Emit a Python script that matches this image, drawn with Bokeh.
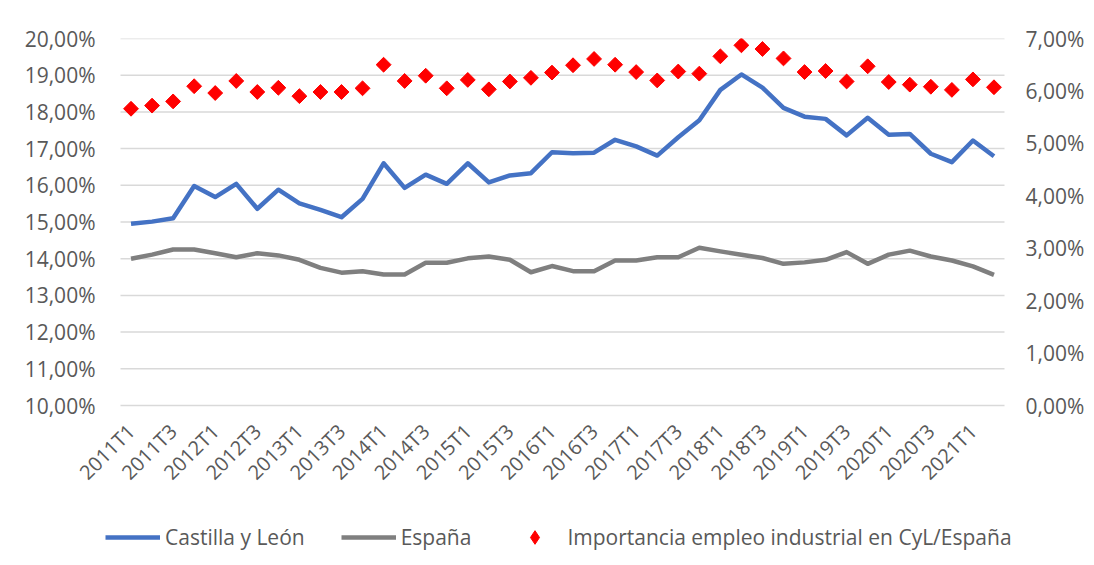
import math
from bokeh.plotting import figure
from bokeh.models import Range1d, LinearAxis, FixedTicker, Legend, LegendItem, ColumnDataSource
from bokeh.embed import file_html
from bokeh.resources import INLINE

quarters = ["2011T1", "2011T2", "2011T3", "2011T4", "2012T1", "2012T2", "2012T3", "2012T4",
            "2013T1", "2013T2", "2013T3", "2013T4", "2014T1", "2014T2", "2014T3", "2014T4",
            "2015T1", "2015T2", "2015T3", "2015T4", "2016T1", "2016T2", "2016T3", "2016T4",
            "2017T1", "2017T2", "2017T3", "2017T4", "2018T1", "2018T2", "2018T3", "2018T4",
            "2019T1", "2019T2", "2019T3", "2019T4", "2020T1", "2020T2", "2020T3", "2020T4",
            "2021T1", "2021T2"]

castilla_leon = [14.95, 15.01, 15.10, 15.98, 15.68, 16.04, 15.36, 15.88, 15.51, 15.33, 15.13, 15.63,
                 16.60, 15.93, 16.29, 16.04, 16.60, 16.08, 16.27, 16.33, 16.90, 16.87, 16.89, 17.24,
                 17.06, 16.81, 17.31, 17.77, 18.60, 19.02, 18.66, 18.11, 17.87, 17.81, 17.36, 17.84,
                 17.38, 17.40, 16.86, 16.63, 17.22, 16.79]

espana = [14.00, 14.11, 14.25, 14.25, 14.15, 14.04, 14.15, 14.09, 13.97, 13.75, 13.62, 13.66,
          13.57, 13.57, 13.89, 13.89, 14.01, 14.06, 13.97, 13.63, 13.80, 13.66, 13.66, 13.95,
          13.95, 14.04, 14.04, 14.30, 14.20, 14.11, 14.02, 13.86, 13.90, 13.97, 14.18, 13.86,
          14.11, 14.22, 14.06, 13.95, 13.79, 13.56]

importancia = [5.66, 5.72, 5.80, 6.09, 5.96, 6.19, 5.98, 6.06, 5.90, 5.98, 5.98, 6.05,
               6.50, 6.19, 6.29, 6.05, 6.21, 6.03, 6.18, 6.25, 6.35, 6.49, 6.61, 6.50,
               6.36, 6.20, 6.37, 6.33, 6.66, 6.87, 6.80, 6.62, 6.36, 6.38, 6.18, 6.47,
               6.17, 6.12, 6.08, 6.02, 6.22, 6.07]

left_ticks = [10, 11, 12, 13, 14, 15, 16, 17, 18, 19, 20]
left_labels = ["10,00%", "11,00%", "12,00%", "13,00%", "14,00%", "15,00%", "16,00%", "17,00%",
               "18,00%", "19,00%", "20,00%"]
right_ticks = [0, 1, 2, 3, 4, 5, 6, 7]
right_labels = ["0,00%", "1,00%", "2,00%", "3,00%", "4,00%", "5,00%", "6,00%", "7,00%"]

label_names = ["Castilla y León", "España", "Importancia empleo industrial en CyL/España"]

FONT = "Open Sans"
TXT = "#595959"

# ---- geometry (pixels) ----
N = len(quarters)
PLOT_W = 884          # width of the category area
PLOT_H = 367          # height between the 10% and 20% gridlines
EXT_L, EXT_R = 50, 20 # extra frame room left/right (tick labels, legend)
EXT_B = 152           # extra frame room below the plot (tick labels + legend)
px_per_q = PLOT_W / N
lpx = PLOT_H / (left_ticks[-1] - left_ticks[0])
rpx = PLOT_H / (right_ticks[-1] - right_ticks[0])

xs = [i + 0.5 for i in range(N)]
src = ColumnDataSource(dict(x=xs, q=quarters, cyl=castilla_leon, esp=espana, imp=importancia))

p = figure(frame_width=PLOT_W + EXT_L + EXT_R, frame_height=PLOT_H + EXT_B,
           output_backend="svg", toolbar_location=None,
           x_range=Range1d(-EXT_L / px_per_q, N + EXT_R / px_per_q),
           y_range=Range1d(left_ticks[0] - EXT_B / lpx, left_ticks[-1]),
           min_border_left=70, min_border_top=38, min_border_right=5, min_border_bottom=0)
p.extra_y_ranges = {"r": Range1d(right_ticks[0] - EXT_B / rpx, right_ticks[-1])}
p.outline_line_color = None
p.background_fill_color = "white"
p.border_fill_color = "white"
p.xgrid.grid_line_color = None
p.ygrid.grid_line_color = None

# horizontal gridlines across the category area only
p.segment(x0=[0] * len(left_ticks), x1=[N] * len(left_ticks), y0=left_ticks, y1=left_ticks,
          line_color="#D9D9D9", line_width=1.5)

# left axis
ya = p.yaxis[0]
ya.ticker = FixedTicker(ticks=left_ticks)
ya.major_label_overrides = {t: l for t, l in zip(left_ticks, left_labels)}
ya.axis_line_color = None
ya.major_tick_line_color = None
ya.minor_tick_line_color = None
ya.major_label_text_font = FONT
ya.major_label_text_font_size = "21px"
ya.major_label_text_color = TXT
ya.major_label_standoff = -31

# right axis
ra = LinearAxis(y_range_name="r", ticker=FixedTicker(ticks=right_ticks))
ra.major_label_overrides = {t: l for t, l in zip(right_ticks, right_labels)}
ra.axis_line_color = None
ra.major_tick_line_color = None
ra.minor_tick_line_color = None
ra.major_label_text_font = FONT
ra.major_label_text_font_size = "21px"
ra.major_label_text_color = TXT
ra.major_label_standoff = -5
p.add_layout(ra, "right")

# x axis pinned at the 10% line
xa = p.xaxis[0]
xt = [xs[i] for i in range(0, N, 2)]
xa.ticker = FixedTicker(ticks=xt)
xa.major_label_overrides = {xs[i]: quarters[i] for i in range(0, N, 2)}
xa.major_label_orientation = math.pi / 4
xa.axis_line_color = None
xa.major_tick_line_color = None
xa.minor_tick_line_color = None
xa.major_label_text_font = FONT
xa.major_label_text_font_size = "20px"
xa.major_label_text_color = TXT
xa.major_label_standoff = 16
xa.fixed_location = left_ticks[0]

r1 = p.line("x", "cyl", source=src, line_color="#4472C4", line_width=4.5, line_join="round")
r2 = p.line("x", "esp", source=src, line_color="#7F7F7F", line_width=4.5, line_join="round")
r3 = p.scatter("x", "imp", source=src, y_range_name="r", marker="square", angle=math.pi / 4,
               size=10.5, fill_color="#FF0000", line_color="#FF0000")
# diamond-shaped twin (fully inside the rotated squares) used as the legend swatch,
# since legend swatches are never drawn rotated
r3_key = p.scatter("x", "imp", source=src, y_range_name="r", marker="diamond", size=13,
                   fill_color="#FF0000", line_color="#FF0000")

legend = Legend(items=[LegendItem(label=label_names[0], renderers=[r1]),
                       LegendItem(label=label_names[1], renderers=[r2]),
                       LegendItem(label=label_names[2], renderers=[r3_key])],
                orientation="horizontal", location=(35, 3))
legend.label_text_font = FONT
legend.label_text_font_size = "21px"
legend.label_text_color = TXT
legend.glyph_width = 55
legend.glyph_height = 34
legend.label_standoff = 5
legend.spacing = 36
legend.border_line_color = None
legend.background_fill_alpha = 0
legend.margin = 0
legend.padding = 5
p.add_layout(legend, "center")

open("out.html", "w").write(file_html(p, INLINE))
